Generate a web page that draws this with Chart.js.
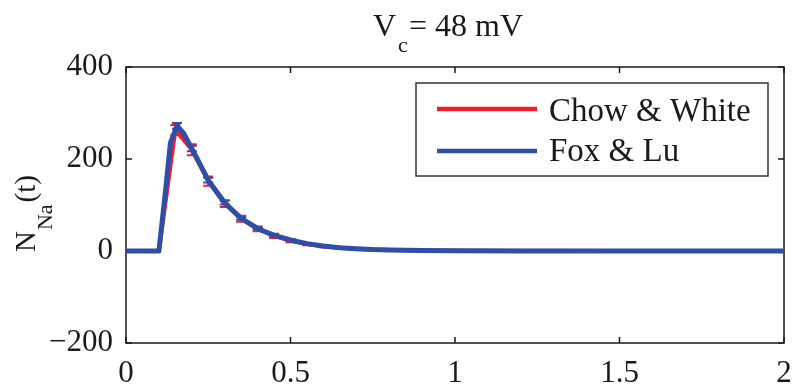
<!DOCTYPE html>
<html>
<head>
<meta charset="utf-8">
<script src="https://cdn.jsdelivr.net/npm/chart.js@4/dist/chart.umd.min.js"></script>
<style>
  html, body { margin: 0; padding: 0; background: #ffffff; }
  #wrap { width: 796px; height: 389px; }
</style>
</head>
<body>
<div id="wrap"><canvas id="c" width="796" height="389"></canvas></div>
<script>
// Axis ticks
const xTicks = [0, 0.5, 1, 1.5, 2];
const yTicks = [-200, 0, 200, 400];

// Chow & White: sampled every 0.05 s near the transient, with error bars
const tChow   = [0, 0.05, 0.1, 0.15, 0.2, 0.25, 0.3, 0.35, 0.4, 0.45, 0.5, 0.55, 0.6, 0.65, 0.7, 0.75, 0.8, 0.9, 1.0, 1.5, 2.0];
const nChow   = [0, 0, 0, 263, 220, 152, 103, 70, 48, 33, 22, 15, 10, 7, 4.5, 3, 2, 1, 0.4, 0, 0];
const errChow = [null, null, null, 11, 12, 10, 7.5, 6.5, 5, 4.5, 3, 2.5, 2, 1.5, 1.2, null, null, null, null, null, null];

// Fox & Lu: finer sampling around the peak
const tFox   = [0, 0.1, 0.12, 0.135, 0.155, 0.175, 0.2, 0.25, 0.3, 0.35, 0.4, 0.45, 0.5, 0.55, 0.6, 0.65, 0.7, 0.75, 0.8, 0.9, 1.0, 1.2, 1.5, 2.0];
const nFox   = [0, 0, 130, 235, 272, 256, 223, 154, 105, 71, 49, 34, 24, 16, 11, 7, 5, 3, 2, 1, 0.5, 0, 0, 0];
const errFox = [null, null, null, null, 6, null, 6, 5, 4, 3, 2.5, 2, 1.5, 1.2, 1, null, null, null, null, null, null, null, null, null];

const seriesNames = ['Chow & White', 'Fox & Lu'];
const titleParts  = ['V', 'c', '= 48 mV'];
const yLabelParts = ['N', 'Na', '(t)'];

const RED  = 'rgb(238, 32, 40)';
const BLUE = 'rgb(46, 78, 168)';
const INK  = '#1a1a1a';
const SERIF = '"Liberation Serif", "Times New Roman", serif';

const toPoints = (xs, ys) => xs.map((x, i) => ({ x: x, y: ys[i] }));

// Vertical error bars with short caps, drawn right after each dataset
const errorBars = {
  id: 'errorBars',
  afterDatasetDraw(chart, args) {
    const ds = chart.data.datasets[args.index];
    if (!ds.errors) return;
    const { ctx, chartArea } = chart;
    const xs = chart.scales.x, ys = chart.scales.y;
    ctx.save();
    ctx.beginPath();
    ctx.rect(chartArea.left, chartArea.top, chartArea.right - chartArea.left, chartArea.bottom - chartArea.top);
    ctx.clip();
    ctx.strokeStyle = ds.borderColor;
    ctx.lineWidth = 2;
    ds.data.forEach((p, i) => {
      const e = ds.errors[i];
      if (e == null) return;
      const px = xs.getPixelForValue(p.x);
      const top = ys.getPixelForValue(p.y + e);
      const bot = ys.getPixelForValue(p.y - e);
      ctx.beginPath();
      ctx.moveTo(px, top); ctx.lineTo(px, bot);
      ctx.moveTo(px - 5, top); ctx.lineTo(px + 5, top);
      ctx.moveTo(px - 5, bot); ctx.lineTo(px + 5, bot);
      ctx.stroke();
    });
    ctx.restore();
  }
};

// Box frame with inward tick marks on all four sides
const frame = {
  id: 'frame',
  beforeDatasetsDraw(chart) {
    const { ctx, chartArea: a } = chart;
    const xs = chart.scales.x, ys = chart.scales.y;
    ctx.save();
    ctx.strokeStyle = INK;
    ctx.lineWidth = 1.5;
    ctx.strokeRect(a.left, a.top, a.right - a.left, a.bottom - a.top);
    ctx.beginPath();
    xTicks.forEach(v => {
      const px = xs.getPixelForValue(v);
      ctx.moveTo(px, a.bottom); ctx.lineTo(px, a.bottom - 6);
      ctx.moveTo(px, a.top);    ctx.lineTo(px, a.top + 6);
    });
    yTicks.forEach(v => {
      const py = ys.getPixelForValue(v);
      ctx.moveTo(a.left, py);  ctx.lineTo(a.left + 6, py);
      ctx.moveTo(a.right, py); ctx.lineTo(a.right - 6, py);
    });
    ctx.stroke();
    ctx.restore();
  }
};

// Title, y-axis label (with subscripts) and boxed legend
const annotations = {
  id: 'annotations',
  afterDraw(chart) {
    const { ctx } = chart;
    ctx.save();
    ctx.fillStyle = INK;
    ctx.textBaseline = 'alphabetic';
    ctx.textAlign = 'left';

    // Title: V_c = 48 mV
    ctx.font = '32px ' + SERIF;
    ctx.fillText(titleParts[0], 373, 36);
    const wV = ctx.measureText(titleParts[0]).width;
    ctx.font = '22px ' + SERIF;
    ctx.fillText(titleParts[1], 373 + wV + 2, 52);
    ctx.font = '32px ' + SERIF;
    ctx.fillText(titleParts[2], 409, 36);

    // Y label: N_Na(t), rotated
    ctx.save();
    ctx.translate(35, 252);
    ctx.rotate(-Math.PI / 2);
    ctx.font = '29px ' + SERIF;
    ctx.fillText(yLabelParts[0], 0, 0);
    const wN = ctx.measureText(yLabelParts[0]).width;
    ctx.font = '22px ' + SERIF;
    ctx.fillText(yLabelParts[1], wN + 1, 17);
    const wNa = ctx.measureText(yLabelParts[1]).width;
    ctx.font = '29px ' + SERIF;
    ctx.fillText(yLabelParts[2], wN + wNa + 3, 0);
    ctx.restore();

    // Legend
    ctx.fillStyle = '#ffffff';
    ctx.fillRect(416, 83, 352, 93);
    ctx.strokeStyle = '#333333';
    ctx.lineWidth = 1.5;
    ctx.strokeRect(416, 83, 352, 93);
    const rows = [{ y: 109, base: 121, color: RED }, { y: 151, base: 161, color: BLUE }];
    rows.forEach((r, i) => {
      ctx.strokeStyle = r.color;
      ctx.lineWidth = 4.5;
      ctx.beginPath();
      ctx.moveTo(437, r.y); ctx.lineTo(537, r.y);
      ctx.stroke();
      ctx.fillStyle = INK;
      ctx.font = '33px ' + SERIF;
      ctx.fillText(seriesNames[i], 549, r.base);
    });
    ctx.restore();
  }
};

const tickFont = { family: SERIF, size: 31 };

new Chart(document.getElementById('c'), {
  type: 'scatter',
  data: {
    datasets: [
      {
        label: seriesNames[0],
        data: toPoints(tChow, nChow),
        errors: errChow,
        showLine: true,
        borderColor: RED,
        backgroundColor: RED,
        borderWidth: 4,
        pointRadius: 0,
        tension: 0,
        order: 2
      },
      {
        label: seriesNames[1],
        data: toPoints(tFox, nFox),
        errors: errFox,
        showLine: true,
        borderColor: BLUE,
        backgroundColor: BLUE,
        borderWidth: 5,
        pointRadius: 0,
        tension: 0,
        borderJoinStyle: 'round',
        order: 1
      }
    ]
  },
  options: {
    responsive: false,
    animation: false,
    devicePixelRatio: 1,
    layout: { padding: { top: 67, right: 12, left: 0, bottom: 0 } },
    plugins: { legend: { display: false }, tooltip: { enabled: false }, title: { display: false } },
    scales: {
      x: {
        type: 'linear', min: 0, max: 2,
        afterBuildTicks: s => { s.ticks = xTicks.map(v => ({ value: v })); },
        afterFit: s => { s.height = 46; s.paddingLeft = 0; s.paddingRight = 0; },
        ticks: { font: tickFont, color: INK, padding: 12, maxRotation: 0, autoSkip: false, callback: v => String(v) },
        grid: { display: false, drawTicks: false },
        border: { display: false }
      },
      y: {
        type: 'linear', min: -200, max: 400,
        afterBuildTicks: s => { s.ticks = yTicks.map(v => ({ value: v })); },
        afterFit: s => { s.width = 126; s.paddingTop = 0; s.paddingBottom = 0; },
        ticks: { font: tickFont, color: INK, padding: 13, autoSkip: false, callback: v => (v < 0 ? '\u2212' + Math.abs(v) : String(v)) },
        grid: { display: false, drawTicks: false },
        border: { display: false }
      }
    }
  },
  plugins: [frame, errorBars, annotations]
});
</script>
</body>
</html>
